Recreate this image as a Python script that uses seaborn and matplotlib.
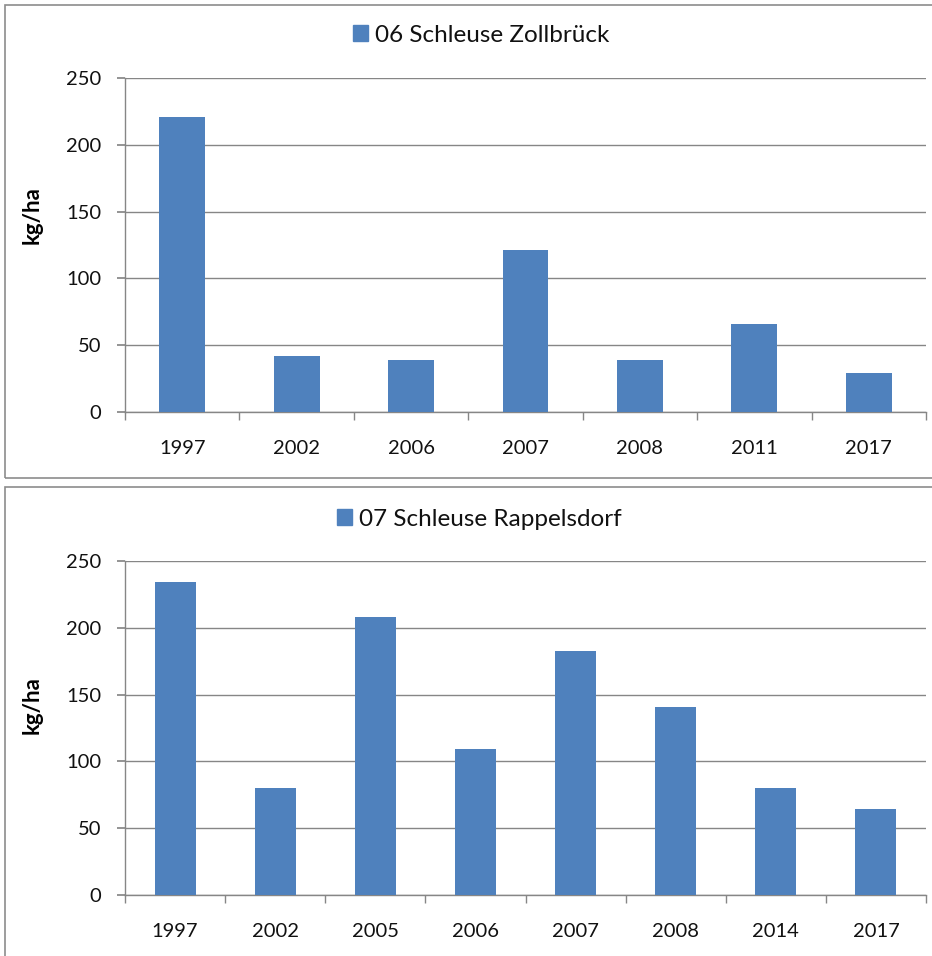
import matplotlib
matplotlib.use("Agg")
import matplotlib.pyplot as plt
import matplotlib.patches as mpatches
import seaborn as sns
import pandas as pd

sns.set_theme(style="white")
plt.rcParams['font.family'] = ['Lato', 'DejaVu Sans']

years_top = ["1997", "2002", "2006", "2007", "2008", "2011", "2017"]
values_top = [221, 42, 39, 121, 39, 66, 29]
name_top = "06 Schleuse Zollbrück"

years_bot = ["1997", "2002", "2005", "2006", "2007", "2008", "2014", "2017"]
values_bot = [234, 80, 208, 109, 183, 141, 80, 64]
name_bot = "07 Schleuse Rappelsdorf"

ylabel = "kg/ha"
yticks = [0, 50, 100, 150, 200, 250]

BAR = "#4F81BD"
GRID = "#868686"
W, H = 932, 956

fig = plt.figure(figsize=(W / 100, H / 100), dpi=100)

# panel borders
for (y0, y1) in [(5, 478), (487, 960)]:
    fig.patches.append(mpatches.Rectangle((5 / W, 1 - y1 / H), (W + 10) / W, (y1 - y0) / H,
                                          transform=fig.transFigure, fill=False,
                                          edgecolor="#8C8C8C", linewidth=1.2))


def panel(years, values, name, top_px, bottom_px, leg_y, leg_x, width, lab_y):
    ax = fig.add_axes([125 / W, 1 - bottom_px / H, (926 - 125) / W, (bottom_px - top_px) / H])
    df = pd.DataFrame({"year": years, "value": values})
    sns.barplot(data=df, x="year", y="value", color=BAR, width=width, ax=ax,
                saturation=1, edgecolor="none", zorder=3)
    n = len(years)
    ax.set_xlim(-0.5, n - 0.5)
    ax.set_ylim(0, 250)
    ax.set_yticks(yticks)
    ax.yaxis.grid(True, color=GRID, linewidth=1, zorder=0)
    ax.set_axisbelow(True)
    for s in ["top", "right"]:
        ax.spines[s].set_visible(False)
    for s in ["left", "bottom"]:
        ax.spines[s].set_color(GRID)
        ax.spines[s].set_linewidth(1)
    ax.set_xticks([i - 0.5 for i in range(n + 1)], minor=True)
    ax.tick_params(axis="x", which="minor", length=6, color=GRID, direction="out", bottom=True)
    ax.tick_params(axis="x", which="major", length=0, pad=20, labelsize=14.5, labelcolor="#111111")
    ax.tick_params(axis="y", which="major", length=6, color=GRID, direction="out", left=True,
                   pad=11, labelsize=14.5, labelcolor="#111111")
    ax.set_xlabel("")
    ax.set_ylabel(ylabel, fontsize=16, fontweight="bold", color="black")
    ax.yaxis.set_label_coords(-82 / (926 - 125), lab_y)
    handle = mpatches.Patch(color=BAR, label=name)
    leg = fig.legend(handles=[handle], loc="center", bbox_to_anchor=(leg_x / W, 1 - leg_y / H),
                     frameon=False, fontsize=17.5, handlelength=0.62, handleheight=0.62,
                     handletextpad=0.3)
    for t in leg.get_texts():
        t.set_color("#111111")
    return ax


panel(years_top, values_top, name_top, 78, 412, 35, 481, 0.4, 0.59)
panel(years_bot, values_bot, name_bot, 561, 895, 519, 479, 0.41, 0.57)

fig.savefig("out.png", dpi=100)
